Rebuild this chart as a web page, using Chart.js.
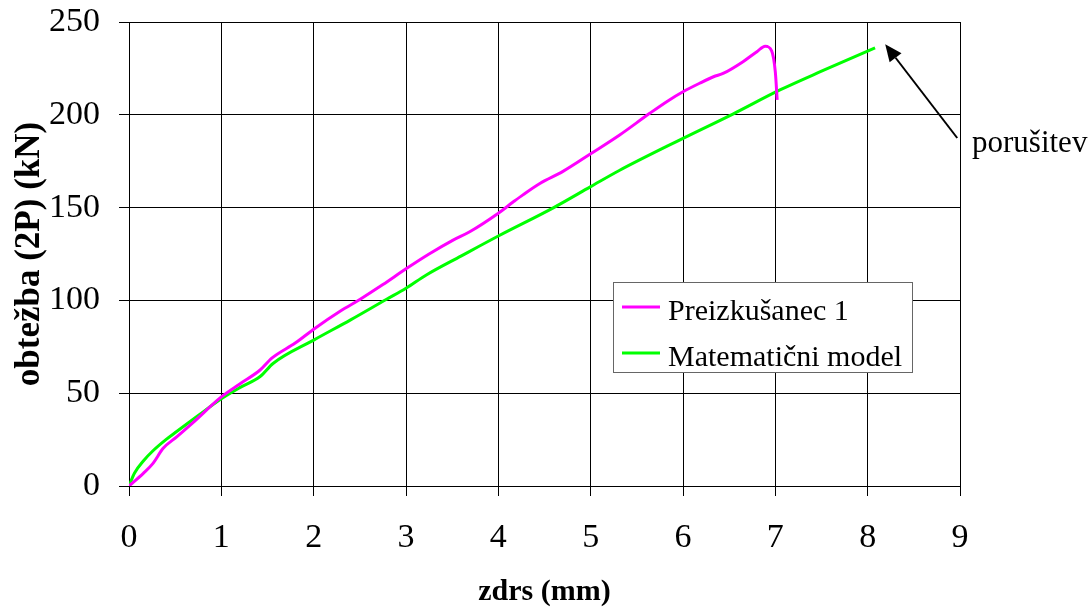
<!DOCTYPE html>
<html>
<head>
<meta charset="utf-8">
<script src="https://cdn.jsdelivr.net/npm/chart.js@4/dist/chart.umd.min.js"></script>
<style>
  body { margin: 0; background: #fff; }
  #wrap { width: 1091px; height: 609px; }
</style>
</head>
<body>
<div id="wrap"><canvas id="graf" width="1091" height="609"></canvas></div>
<script>
// zdrs (mm) / obtežba (kN) odčitano s slike
const preizkusanecX = [0, 0.155, 0.26, 0.37, 0.52, 0.69, 1.0, 1.2, 1.42, 1.55, 1.8, 2.0, 2.29, 2.5, 2.75, 3.0, 3.25, 3.51, 3.69, 4.0, 4.16, 4.27, 4.45, 4.7, 5.0, 5.31, 5.64, 5.84, 6.0, 6.18, 6.33, 6.44, 6.65, 6.8, 6.89, 6.96, 7.0, 7.02];
const preizkusanecY = [0, 6.8, 12.2, 20.3, 26.6, 34, 48, 55, 62.5, 69, 77, 84.5, 94.3, 100.5, 108.5, 117, 125, 132.5, 137, 147, 153, 157, 163, 169.5, 179, 189, 200.8, 207.6, 212.4, 217, 220.5, 222.4, 228.6, 234, 237, 234.5, 223, 208];
const modelX = [0, 0.06, 0.155, 0.26, 0.4, 0.52, 0.75, 1.0, 1.2, 1.42, 1.56, 2.0, 2.4, 2.79, 3.0, 3.22, 3.6, 4.0, 4.6, 5.0, 5.31, 6.0, 6.54, 7.05, 7.5, 8.08];
const modelY = [0, 7, 13.5, 19, 25, 29.5, 38, 47, 53, 59, 66, 78.6, 89.5, 100.6, 106.5, 113.7, 124, 134.7, 150, 161.3, 170, 187.3, 200.4, 213.4, 223.5, 236];
const seriesNames = ["Preizkušanec 1", "Matematični model"];
const xTicks = [0, 1, 2, 3, 4, 5, 6, 7, 8, 9];
const yTicks = [0, 50, 100, 150, 200, 250];
const failureLabel = "porušitev";
const failureArrow = { from: [8.97, 187.5], to: [8.19, 238], text: [9.13, 180] };

const serif = '"Liberation Serif", "Times New Roman", serif';

const toPoints = (xs, ys) => xs.map((x, i) => ({ x: x, y: ys[i] }));

const legendBox = {
    id: "legendBox",
    afterDraw(chart) {
        const ctx = chart.ctx;
        const left = 613, top = 282, w = 299, h = 90;
        ctx.save();
        ctx.fillStyle = "#fff";
        ctx.fillRect(left, top, w, h);
        ctx.strokeStyle = "#666";
        ctx.lineWidth = 1;
        ctx.strokeRect(left + 0.5, top + 0.5, w, h);
        ctx.font = "30px " + serif;
        ctx.textBaseline = "alphabetic";
        chart.data.datasets.forEach((ds, i) => {
            const yLine = top + 25 + i * 46;
            ctx.strokeStyle = ds.borderColor;
            ctx.lineWidth = 3;
            ctx.beginPath();
            ctx.moveTo(622, yLine);
            ctx.lineTo(660, yLine);
            ctx.stroke();
            ctx.fillStyle = "#000";
            ctx.fillText(ds.label, 668, yLine + 13);
        });
        ctx.restore();
    }
};

const arrowNote = {
    id: "arrowNote",
    afterDraw(chart) {
        const ctx = chart.ctx;
        const sx = chart.scales.x, sy = chart.scales.y;
        const x0 = sx.getPixelForValue(failureArrow.from[0]), y0 = sy.getPixelForValue(failureArrow.from[1]);
        const x1 = sx.getPixelForValue(failureArrow.to[0]), y1 = sy.getPixelForValue(failureArrow.to[1]);
        const ang = Math.atan2(y1 - y0, x1 - x0);
        const len = 17, half = 7.5;
        ctx.save();
        ctx.strokeStyle = "#000";
        ctx.fillStyle = "#000";
        ctx.lineWidth = 2;
        ctx.beginPath();
        ctx.moveTo(x0, y0);
        ctx.lineTo(x1 - Math.cos(ang) * len, y1 - Math.sin(ang) * len);
        ctx.stroke();
        const bx = x1 - Math.cos(ang) * len, by = y1 - Math.sin(ang) * len;
        ctx.beginPath();
        ctx.moveTo(x1, y1);
        ctx.lineTo(bx + Math.sin(ang) * half, by - Math.cos(ang) * half);
        ctx.lineTo(bx - Math.sin(ang) * half, by + Math.cos(ang) * half);
        ctx.closePath();
        ctx.fill();
        ctx.font = "31px " + serif;
        ctx.textBaseline = "alphabetic";
        ctx.fillText(failureLabel, sx.getPixelForValue(failureArrow.text[0]), sy.getPixelForValue(failureArrow.text[1]));
        ctx.restore();
    }
};

new Chart(document.querySelector("#graf"), {
    type: "scatter",
    data: {
        datasets: [
            {
                label: seriesNames[0],
                data: toPoints(preizkusanecX, preizkusanecY),
                borderColor: "#ff00ff",
                backgroundColor: "#ff00ff",
            },
            {
                label: seriesNames[1],
                data: toPoints(modelX, modelY),
                borderColor: "#00ff00",
                backgroundColor: "#00ff00",
            }
        ]
    },
    options: {
        responsive: false,
        animation: false,
        showLine: true,
        elements: {
            point: { radius: 0, hoverRadius: 0 },
            line: { borderWidth: 3, cubicInterpolationMode: "monotone" }
        },
        layout: { padding: { top: 22, right: 131, left: 0, bottom: 0 } },
        plugins: {
            legend: { display: false },
            tooltip: { enabled: false }
        },
        scales: {
            x: {
                type: "linear",
                min: 0,
                max: 9,
                afterBuildTicks: (scale) => { scale.ticks = xTicks.map(v => ({ value: v })); },
                afterFit: (scale) => { scale.height = 123; scale.paddingLeft = 0; scale.paddingRight = 0; },
                ticks: { color: "#000", padding: 22, maxRotation: 0, font: { family: serif, size: 34 } },
                grid: { color: "#000", lineWidth: 1, tickLength: 10, tickColor: "#000" },
                border: { color: "#000", width: 1 },
                title: {
                    display: true,
                    text: "zdrs (mm)",
                    color: "#000",
                    padding: { top: 0, bottom: 0 },
                    font: { family: serif, size: 30, weight: "bold", lineHeight: 1.1 }
                }
            },
            y: {
                type: "linear",
                min: 0,
                max: 250,
                afterBuildTicks: (scale) => { scale.ticks = yTicks.map(v => ({ value: v })); },
                afterFit: (scale) => { scale.width = 129; scale.paddingTop = 0; scale.paddingBottom = 0; },
                ticks: { color: "#000", padding: 19, font: { family: serif, size: 34 } },
                grid: { color: "#000", lineWidth: 1, tickLength: 10, tickColor: "#000" },
                border: { color: "#000", width: 1 },
                title: {
                    display: true,
                    text: "obtežba (2P) (kN)",
                    color: "#000",
                    padding: { top: 11, bottom: 0 },
                    font: { family: serif, size: 35, weight: "bold", lineHeight: 1.1 }
                }
            }
        }
    },
    plugins: [legendBox, arrowNote]
});
</script>
</body>
</html>
